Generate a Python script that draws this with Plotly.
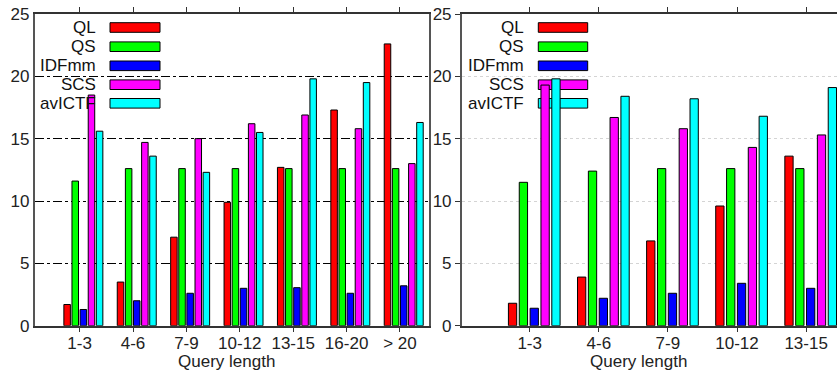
import plotly.graph_objects as go

# ---------------- data ----------------
series_names = ["QL", "QS", "IDFmm", "SCS", "avICTF"]
series_colors = ["#ff0000", "#00ff00", "#0000ff", "#ff00ff", "#00ffff"]

left_categories = ["1-3", "4-6", "7-9", "10-12", "13-15", "16-20", "> 20"]
left_QL = [1.7, 3.5, 7.1, 9.9, 12.7, 17.3, 22.6]
left_QS = [11.6, 12.6, 12.6, 12.6, 12.6, 12.6, 12.6]
left_IDFmm = [1.3, 2.0, 2.6, 3.0, 3.05, 2.6, 3.2]
left_SCS = [18.5, 14.7, 15.0, 16.2, 16.9, 15.8, 13.0]
left_avICTF = [15.6, 13.6, 12.3, 15.5, 19.8, 19.5, 16.3]

right_categories = ["1-3", "4-6", "7-9", "10-12", "13-15"]
right_QL = [1.8, 3.9, 6.8, 9.6, 13.6]
right_QS = [11.5, 12.4, 12.6, 12.6, 12.6]
right_IDFmm = [1.4, 2.2, 2.6, 3.4, 3.0]
right_SCS = [19.3, 16.7, 15.8, 14.3, 15.3]
right_avICTF = [19.8, 18.4, 18.2, 16.8, 19.1]

y_ticks = [0, 5, 10, 15, 20, 25]
x_title = "Query length"

left_series = [left_QL, left_QS, left_IDFmm, left_SCS, left_avICTF]
right_series = [right_QL, right_QS, right_IDFmm, right_SCS, right_avICTF]

# ---------------- layout helpers ----------------
W, H = 837, 374
FONT = "Liberation Sans, Arial, sans-serif"


def px(x):
    return x / W


def py(y):
    return 1 - y / H


fig = go.Figure()

# bar geometry in category units
L_START, L_PITCH, L_WIDTH = -0.295, 0.152, 0.122
R_START, R_PITCH, R_WIDTH = -0.308, 0.157, 0.12

for i, (name, color) in enumerate(zip(series_names, series_colors)):
    fig.add_trace(go.Bar(
        x=left_categories, y=left_series[i], name=name,
        marker=dict(color=color, line=dict(color="#000000", width=1)),
        offset=L_START + i * L_PITCH, width=L_WIDTH,
        xaxis="x", yaxis="y", showlegend=False,
    ))
    fig.add_trace(go.Bar(
        x=right_categories, y=right_series[i], name=name,
        marker=dict(color=color, line=dict(color="#000000", width=1)),
        offset=R_START + i * R_PITCH, width=R_WIDTH,
        xaxis="x2", yaxis="y2", showlegend=False,
    ))

ydom = [py(325.7), py(14)]
tickfont = dict(family=FONT, size=17, color="#222222")

common_x = dict(
    type="category", showgrid=False, zeroline=False, automargin=False,
    showline=True, linecolor="#333333", linewidth=1.5,
    ticks="outside", ticklen=5, tickcolor="#333333", tickwidth=1,
    mirror="ticks", tickfont=tickfont, ticklabelstandoff=-4,
)
fig.update_layout(
    template="none",
    width=W, height=H,
    margin=dict(l=0, r=0, t=0, b=0, autoexpand=False),
    paper_bgcolor="white", plot_bgcolor="white",
    barmode="overlay",
    showlegend=False,
    xaxis=dict(common_x, domain=[px(34.5), px(429.3)], range=[-0.845, 6.549], anchor="y"),
    yaxis=dict(
        domain=ydom, range=[0, 25], tickvals=y_ticks, anchor="x", automargin=False,
        showgrid=True, gridcolor="#000000", griddash="dashdot", gridwidth=1,
        zeroline=False, showline=True, linecolor="#555555", linewidth=1.5,
        mirror=True, ticks="", tickfont=tickfont,
    ),
    xaxis2=dict(common_x, domain=[px(461.7), 1.0], range=[-0.984, 4.447], anchor="y2"),
    yaxis2=dict(
        domain=ydom, range=[0, 25], tickvals=y_ticks, anchor="x2", automargin=False,
        showgrid=True, gridcolor="#d4d4d4", griddash="dot", gridwidth=1,
        zeroline=False, showline=True, linecolor="#555555", linewidth=1.5,
        mirror=False, ticks="outside", ticklen=5, tickcolor="#333333",
        tickfont=tickfont,
    ),
)

shapes = []
annotations = []

# legend backgrounds (hide gridlines, under bars)
for x0, x1 in [(36, 167), (463, 600)]:
    shapes.append(dict(type="rect", xref="paper", yref="paper",
                       x0=px(x0), x1=px(x1), y0=py(112), y1=py(15),
                       fillcolor="white", line=dict(width=0), layer="between"))

row_centers = [27.5, 46.7, 65.8, 84.7, 103.3]
for (text_right, sw0, sw1) in [(98, 110, 160), (526, 538.3, 587.7)]:
    for name, color, yc in zip(series_names, series_colors, row_centers):
        shapes.append(dict(type="rect", xref="paper", yref="paper",
                           x0=px(sw0), x1=px(sw1), y0=py(yc + 4.8), y1=py(yc - 4.8),
                           fillcolor=color, line=dict(color="#000000", width=1),
                           layer="between"))
        annotations.append(dict(text=name, xref="paper", yref="paper",
                                x=px(text_right), y=py(yc), xanchor="right",
                                yanchor="middle", showarrow=False,
                                font=dict(family=FONT, size=17, color="#111111")))

for xc in [226.5, 638.7]:
    annotations.append(dict(text=x_title, xref="paper", yref="paper",
                            x=px(xc), y=py(361), xanchor="center", yanchor="middle",
                            showarrow=False,
                            font=dict(family=FONT, size=17, color="#222222")))

fig.update_layout(shapes=shapes, annotations=annotations)

fig.write_html(
    "out.html",
    config={"displayModeBar": False},
    post_script="document.body.style.margin='0';document.body.style.overflow='hidden';",
)
